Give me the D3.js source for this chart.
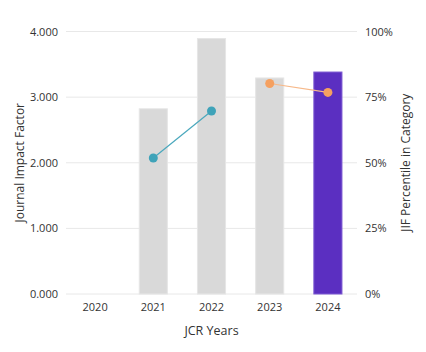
<!DOCTYPE html>
<html>
<head>
<meta charset="utf-8">
<script src="https://cdn.jsdelivr.net/npm/d3@7"></script>
<style>
  body { margin: 0; background: #fff; }
  text { font-family: "Open Sans", "Noto Sans", sans-serif; }
</style>
</head>
<body>
<svg id="chart" width="426" height="352"></svg>
<script>
const years = ["2020", "2021", "2022", "2023", "2024"];
const jif = [null, 2.83, 3.90, 3.30, 3.39];
const percentile = [null, 51.8, 69.7, 80.2, 76.8];
const leftTicks = [0, 1, 2, 3, 4];
const rightTicks = [0, 25, 50, 75, 100];
const currentYear = "2024";

const svg = d3.select("#chart"),
      margin = { top: 31.5, right: 69, bottom: 58, left: 66 },
      width = +svg.attr("width") - margin.left - margin.right,
      height = +svg.attr("height") - margin.top - margin.bottom;

const g = svg.append("g").attr("transform", `translate(${margin.left},${margin.top})`);

const x = d3.scaleBand().domain(years).range([0, width]).paddingInner(0.5).paddingOuter(0.25);
const yL = d3.scaleLinear().domain([0, 4]).range([height, 0]);
const yR = d3.scaleLinear().domain([0, 100]).range([height, 0]);

// gridlines
g.append("g").selectAll("line").data(leftTicks).join("line")
  .attr("x1", 0).attr("x2", width)
  .attr("y1", d => yL(d)).attr("y2", d => yL(d))
  .attr("stroke", "#e8e8e8").attr("stroke-width", 1);

// left axis
const axL = g.append("g").call(d3.axisLeft(yL).tickValues(leftTicks).tickFormat(d3.format(".3f")).tickSize(0).tickPadding(8));
axL.select(".domain").remove();
axL.selectAll("text").attr("font-size", 11).attr("fill", "#333");

// right axis
const axR = g.append("g").attr("transform", `translate(${width},0)`)
  .call(d3.axisRight(yR).tickValues(rightTicks).tickFormat(d => d + "%").tickSize(0).tickPadding(8));
axR.select(".domain").remove();
axR.selectAll("text").attr("font-size", 11).attr("fill", "#333");

// bottom axis
const axB = g.append("g").attr("transform", `translate(0,${height})`)
  .call(d3.axisBottom(x).tickSize(0).tickPadding(9));
axB.select(".domain").remove();
axB.selectAll("text").attr("font-size", 11).attr("fill", "#333");

// bars
const barData = years.map((y, i) => ({ year: y, v: jif[i] })).filter(d => d.v != null);
g.append("g").selectAll("rect").data(barData).join("rect")
  .attr("x", d => x(d.year) + 0.5)
  .attr("y", d => yL(d.v) + 0.5)
  .attr("width", x.bandwidth() - 1)
  .attr("height", d => height - yL(d.v) - 0.5)
  .attr("fill", d => d.year === currentYear ? "#5b2fc1" : "#d9d9d9")
  .attr("stroke", d => d.year === currentYear ? "#7d5ad2" : "#e6e6e6")
  .attr("stroke-width", 1);

// percentile lines: two segments with different colours
const pts = years.map((y, i) => ({ year: y, p: percentile[i] }));
const segments = [
  { color: "#3fa3b9", lineColor: "#4aa8bd", data: pts.slice(1, 3) },
  { color: "#f5a060", lineColor: "#f7b98a", data: pts.slice(3, 5) }
];
const line = d3.line()
  .x(d => x(d.year) + x.bandwidth() / 2)
  .y(d => yR(d.p));

segments.forEach(s => {
  g.append("path").datum(s.data)
    .attr("fill", "none")
    .attr("stroke", s.lineColor)
    .attr("stroke-width", 1.2)
    .attr("d", line);
  g.append("g").selectAll("circle").data(s.data).join("circle")
    .attr("cx", d => x(d.year) + x.bandwidth() / 2)
    .attr("cy", d => yR(d.p))
    .attr("r", 4.5)
    .attr("fill", s.color);
});

// axis titles
svg.append("text")
  .attr("transform", `translate(24,${margin.top + height / 2}) rotate(-90)`)
  .attr("text-anchor", "middle")
  .attr("font-size", 12).attr("fill", "#333")
  .text("Journal Impact Factor");

svg.append("text")
  .attr("transform", `translate(410,${margin.top + height / 2}) rotate(-90)`)
  .attr("text-anchor", "middle")
  .attr("font-size", 12).attr("fill", "#333")
  .text("JIF Percentile in Category");

svg.append("text")
  .attr("x", margin.left + width / 2)
  .attr("y", 335)
  .attr("text-anchor", "middle")
  .attr("font-size", 12.5).attr("fill", "#333")
  .text("JCR Years");
</script>
</body>
</html>
